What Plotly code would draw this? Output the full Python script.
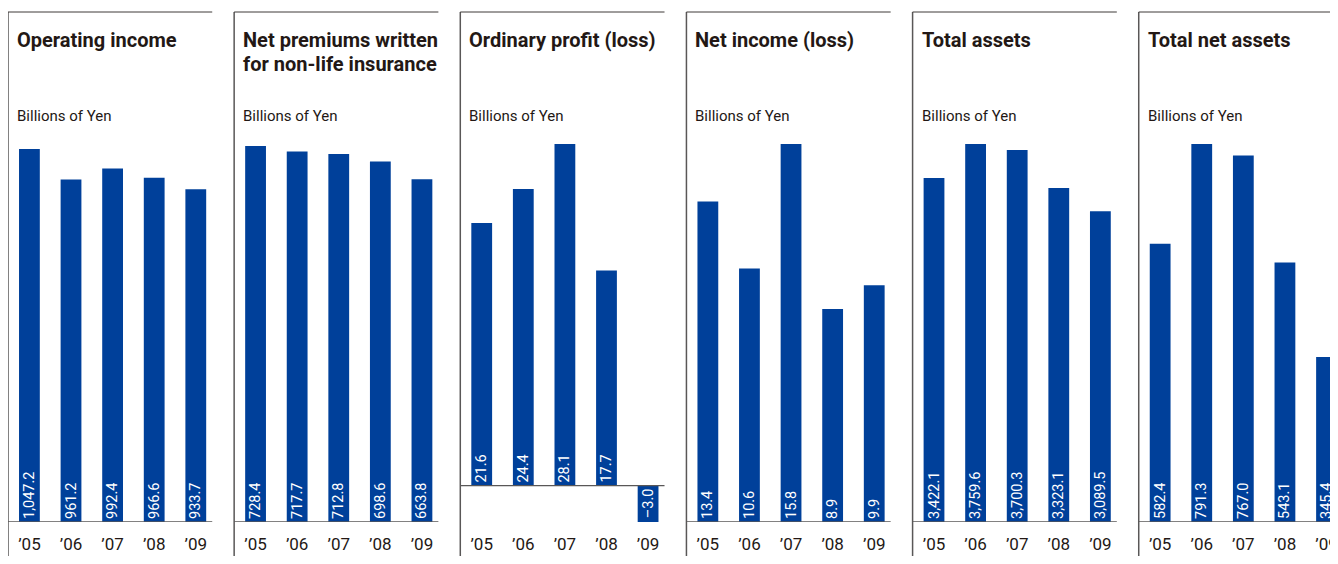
import plotly.graph_objects as go

years = ["’05", "’06", "’07", "’08", "’09"]
titles = [
    "Operating income",
    "Net premiums written\nfor non-life insurance",
    "Ordinary profit (loss)",
    "Net income (loss)",
    "Total assets",
    "Total net assets",
]
unit_label = "Billions of Yen"
operating_income = [1047.2, 961.2, 992.4, 966.6, 933.7]
net_premiums = [728.4, 717.7, 712.8, 698.6, 663.8]
ordinary_profit = [21.6, 24.4, 28.1, 17.7, -3.0]
net_income = [13.4, 10.6, 15.8, 8.9, 9.9]
total_assets = [3422.1, 3759.6, 3700.3, 3323.1, 3089.5]
total_net_assets = [582.4, 791.3, 767.0, 543.1, 345.4]
series = [operating_income, net_premiums, ordinary_profit, net_income,
          total_assets, total_net_assets]
y_ranges = [[0, 1061], [0, 732.3], [-3.0, 28.1], [0, 15.8], [0, 3759.6], [0, 791.3]]

# the page adds an 8px body margin; work in page pixels and convert
OFF = 8
PAGE_W, PAGE_H = 1338, 564
W, H = PAGE_W - OFF, PAGE_H - 2 * OFF
BLUE = "#00409a"
INK = "#231815"
LINE = "#595757"
FONT = "Roboto, DejaVu Sans Condensed, sans-serif"

def px(X):
    return (X - OFF) / W

def py(Y):
    return 1 - (Y - OFF) / H

panel_left0 = 8
panel_step = 227
panel_w = 205
plot_top, plot_bot = 144, 522
cat_px = 41.75
first_off = 21.5

def fmt(v):
    s = "{:,.1f}".format(v)
    return s.replace("-", "–")

fig = go.Figure()
shapes = []
annotations = []
for i, vals in enumerate(series):
    left = panel_left0 + i * panel_step
    right = min(left + panel_w, PAGE_W)
    ax = "" if i == 0 else str(i + 1)
    xa, ya = "x" + ax, "y" + ax
    r0 = -first_off / cat_px
    r1 = r0 + (right - left) / cat_px
    fig.add_trace(go.Bar(
        x=years, y=vals, xaxis=xa, yaxis=ya,
        marker=dict(color=BLUE, line=dict(width=0)),
        width=0.5,
        text=[fmt(v) for v in vals],
        textposition="inside", insidetextanchor="start",
        textangle=-90, constraintext="none",
        textfont=dict(color="white", size=14.5, family=FONT),
        cliponaxis=True, hoverinfo="skip", showlegend=False,
    ))
    fig.update_layout(**{
        "xaxis" + ax: dict(domain=[px(left), min(px(right), 1)], range=[r0, r1],
                           showline=False, showgrid=False, zeroline=False,
                           ticks="outside", ticklen=7, tickcolor="rgba(0,0,0,0)",
                           tickfont=dict(size=17, color=INK, family=FONT),
                           anchor=ya, fixedrange=True),
        "yaxis" + ax: dict(domain=[py(plot_bot), py(plot_top)],
                           range=y_ranges[i], visible=False, anchor=xa,
                           fixedrange=True),
    })
    # zero baseline
    shapes.append(dict(type="line", xref=xa + " domain", yref=ya,
                       x0=0, x1=1, y0=0, y1=0, layer="above",
                       line=dict(color=LINE, width=1.3)))
    # panel left border
    shapes.append(dict(type="line", xref="paper", yref="paper",
                       x0=px(left), x1=px(left), y0=0, y1=py(12),
                       line=dict(color=LINE, width=1.5)))
    # panel top border
    shapes.append(dict(type="line", xref="paper", yref="paper",
                       x0=px(left), x1=min(px(right), 1), y0=py(12), y1=py(12),
                       line=dict(color="#3e3a39", width=1)))
    for k, line in enumerate(titles[i].split("\n")):
        annotations.append(dict(text="<b>" + line + "</b>", xref="paper", yref="paper",
                                x=px(left + 7), y=py(40 + 24 * k),
                                xanchor="left", yanchor="middle", showarrow=False,
                                font=dict(size=20, color=INK, family=FONT)))
    annotations.append(dict(text=unit_label, xref="paper", yref="paper",
                            x=px(left + 7), y=py(116),
                            xanchor="left", yanchor="middle", showarrow=False,
                            font=dict(size=15, color=INK, family=FONT)))

fig.update_layout(width=W, height=H, margin=dict(l=0, r=0, t=0, b=0),
                  paper_bgcolor="white", plot_bgcolor="white",
                  shapes=shapes, annotations=annotations, bargap=0.5)
fig.write_html("out.html")
